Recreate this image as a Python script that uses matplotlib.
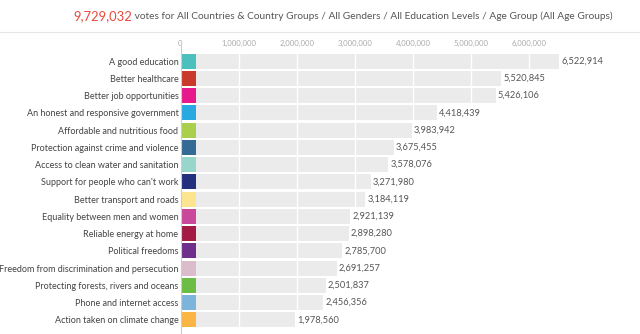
import matplotlib.pyplot as plt
from matplotlib.lines import Line2D

categories = [
    "A good education",
    "Better healthcare",
    "Better job opportunities",
    "An honest and responsive government",
    "Affordable and nutritious food",
    "Protection against crime and violence",
    "Access to clean water and sanitation",
    "Support for people who can't work",
    "Better transport and roads",
    "Equality between men and women",
    "Reliable energy at home",
    "Political freedoms",
    "Freedom from discrimination and persecution",
    "Protecting forests, rivers and oceans",
    "Phone and internet access",
    "Action taken on climate change",
]
votes = [6522914, 5520845, 5426106, 4418439, 3983942, 3675455, 3578076,
         3271980, 3184119, 2921139, 2898280, 2785700, 2691257, 2501837,
         2456356, 1978560]
icon_colors = ["#4cc0bd", "#c8392b", "#e6198d", "#29a9e1", "#a9cf4c",
               "#346b95", "#98d6cb", "#23307e", "#fde58f", "#c9489b",
               "#a31b45", "#6d2e8c", "#dbbccb", "#6cbd45", "#7db4da",
               "#fbb545"]
ticks = [0, 1000000, 2000000, 3000000, 4000000, 5000000, 6000000]
total_votes = "9,729,032"
title_rest = " votes for All Countries & Country Groups / All Genders / All Education Levels / Age Group (All Age Groups)"

plt.rcParams['font.family'] = ['Lato', 'DejaVu Sans']

fig = plt.figure(figsize=(6.4, 3.34), dpi=100)
ax = fig.add_axes([180.5 / 640, 5.5 / 334, 440 / 640, 276 / 334])

y = list(range(len(categories)))
ax.barh(y, votes, height=0.87, color="#ebebeb", zorder=1)
for t in ticks[1:]:
    ax.axvline(t, color="white", lw=1, zorder=2)
ax.barh(y, [275000] * len(y), height=0.87, color=icon_colors, zorder=3)
for yi, v in zip(y, votes):
    ax.text(v + 35000, yi, f"{v:,}", va="center", ha="left",
            fontsize=6.7, color="#555555")

ax.set_xlim(0, 440 / 58.1 * 1e6)
ax.set_ylim(len(categories) - 0.5, -0.5)
ax.set_yticks(y)
ax.set_yticklabels(categories, fontsize=6.45, color="#444444")
ax.set_xticks(ticks)
ax.set_xticklabels([f"{t:,}" for t in ticks], fontsize=5.6, color="#aaaaaa")
ax.xaxis.tick_top()
ax.tick_params(axis="both", length=0, pad=1.5)
ax.tick_params(axis="x", pad=4)
for s in ax.spines.values():
    s.set_visible(False)
ax.plot([0, 0], [-0.9, 15.8], color="#cccccc", lw=0.8, clip_on=False, zorder=4)

fig.add_artist(Line2D([0, 1], [1 - 32 / 334] * 2, color="#e6e6e6", lw=0.8))
t1 = fig.text(73 / 640, 1 - 16 / 334, total_votes, fontsize=9.4, color="#e84a3c",
              va="center", ha="left")
t2 = fig.text(0, 1 - 16 / 334, title_rest, fontsize=7.5, color="#555555",
              va="center", ha="left")
fig.canvas.draw()
bb = t1.get_window_extent()
t2.set_x(bb.x1 / 640)
# fit the grey part of the title to end near x=611 px as in the reference
w = t2.get_window_extent().width
t2.set_fontsize(7.5 * (611 - bb.x1) / w)

fig.savefig("out.png", dpi=100)
